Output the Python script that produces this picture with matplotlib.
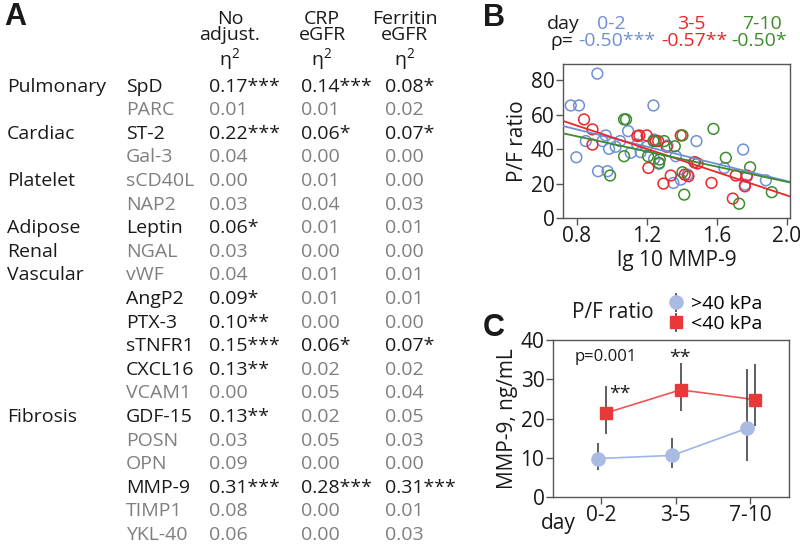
import numpy as np
import matplotlib.pyplot as plt

FONT = ['Open Sans', 'DejaVu Sans']
plt.rcParams['font.family'] = FONT
plt.rcParams['mathtext.fontset'] = 'custom'
plt.rcParams['mathtext.rm'] = 'Open Sans'
BLACK = '#1a1a1a'
GRAY = '#7f7f7f'

# ---- panel A table ----
groups = ['Pulmonary', '', 'Cardiac', '', 'Platelet', '', 'Adipose', 'Renal', 'Vascular', '',
          '', '', '', '', 'Fibrosis', '', '', '', '', '']
markers = ['SpD', 'PARC', 'ST-2', 'Gal-3', 'sCD40L', 'NAP2', 'Leptin', 'NGAL', 'vWF', 'AngP2',
           'PTX-3', 'sTNFR1', 'CXCL16', 'VCAM1', 'GDF-15', 'POSN', 'OPN', 'MMP-9', 'TIMP1', 'YKL-40']
no_adj = ['0.17***', '0.01', '0.22***', '0.04', '0.00', '0.03', '0.06*', '0.03', '0.04', '0.09*',
          '0.10**', '0.15***', '0.13**', '0.00', '0.13**', '0.03', '0.09', '0.31***', '0.08', '0.06']
crp_egfr = ['0.14***', '0.01', '0.06*', '0.00', '0.01', '0.04', '0.01', '0.00', '0.01', '0.01',
            '0.00', '0.06*', '0.02', '0.05', '0.02', '0.05', '0.00', '0.28***', '0.00', '0.00']
ferr_egfr = ['0.08*', '0.02', '0.07*', '0.00', '0.00', '0.03', '0.01', '0.00', '0.01', '0.01',
             '0.00', '0.07*', '0.02', '0.04', '0.05', '0.03', '0.00', '0.31***', '0.01', '0.03']
col_headers = ['No\nadjust.', 'CRP\neGFR', 'Ferritin\neGFR']

# ---- panel B scatter (lg10 MMP-9 vs P/F ratio) ----
b_x_02 = [0.766, 0.813, 0.918, 0.798, 0.852, 0.922, 0.966, 0.947, 0.976, 0.985, 1.048, 1.023,
          1.094, 1.109, 1.166, 1.239, 1.200, 1.243, 1.271, 1.319, 1.353, 1.395, 1.367, 1.434,
          1.485, 1.472, 1.644, 1.752, 1.762, 1.773, 1.882, 1.147, 1.243]
b_y_02 = [65.4, 65.4, 83.9, 35.3, 44.7, 27.2, 48.0, 44.7, 27.2, 40.2, 44.7, 41.4,
          50.5, 37.9, 38.3, 65.4, 41.4, 45.6, 31.5, 42.1, 20.4, 22.3, 35.9, 25.2,
          44.7, 32.4, 29.1, 39.8, 19.4, 23.9, 21.9, 42.7, 34.4]
b_x_35 = [0.842, 0.890, 0.890, 1.147, 1.158, 1.200, 1.210, 1.266, 1.296, 1.338, 1.395, 1.418,
          1.439, 1.476, 1.491, 1.571, 1.693, 1.710, 1.762, 1.773, 1.315, 1.252]
b_y_35 = [57.3, 51.5, 42.7, 47.6, 48.0, 48.0, 29.1, 44.7, 20.0, 24.7, 48.0, 25.2,
          24.3, 32.4, 31.7, 20.4, 11.3, 24.7, 18.4, 24.7, 41.4, 44.7]
b_x_710 = [0.991, 1.071, 1.082, 1.071, 1.208, 1.239, 1.271, 1.300, 1.361, 1.405, 1.405, 1.415,
           1.582, 1.653, 1.729, 1.792, 1.916, 1.275]
b_y_710 = [24.7, 57.3, 57.3, 35.9, 35.9, 44.7, 32.0, 44.7, 41.7, 48.0, 26.6, 13.6,
           51.8, 35.0, 8.3, 29.5, 15.0, 34.0]
days = ['0-2', '3-5', '7-10']
rho = ['-0.50***', '-0.57**', '-0.50*']
fit_slope = [-25.0, -33.8, -22.0]
fit_intercept = [71.5, 80.8, 65.1]
day_colors = ['#6f8fd6', '#e8282a', '#3c8c2c']

# ---- panel C MMP-9 by day ----
hi_mean = [9.8, 10.6, 17.5]
hi_low = [6.9, 7.4, 9.3]
hi_high = [13.7, 15.0, 32.5]
lo_mean = [21.4, 27.3, 24.8]
lo_low = [16.1, 21.8, 18.2]
lo_high = [28.3, 34.2, 33.9]

fig = plt.figure(figsize=(8, 5.46), dpi=100)

# text layer in pixel coordinates
ax_t = fig.add_axes([0, 0, 1, 1])
ax_t.set_xlim(0, 800)
ax_t.set_ylim(546, 0)
ax_t.axis('off')

fs = 14
afs = 15
for lab, lx, ly in [('A', 4, 17), ('B', 483, 18), ('C', 483, 328)]:
    ax_t.text(lx, ly, lab, fontsize=22, fontweight='bold', family='Liberation Sans',
              va='center', color=BLACK)

hdr_x = [230, 322, 405]
val_x = [209, 301, 385]
for hx, h in zip(hdr_x, col_headers):
    ax_t.text(hx, 27, h, ha='center', va='center', fontsize=fs, color=BLACK, linespacing=0.9)
    ax_t.text(hx, 60, 'η$^2$', ha='center', va='center', fontsize=fs, color=BLACK)

row_y = 86.5 + 23.6 * np.arange(len(markers))
for i, y in enumerate(row_y):
    if groups[i]:
        ax_t.text(7, y, groups[i], va='center', fontsize=fs, color=BLACK)
    ax_t.text(126, y, markers[i], va='center', fontsize=fs,
              color=BLACK if '*' in no_adj[i] else GRAY)
    for vx, col in zip(val_x, [no_adj, crp_egfr, ferr_egfr]):
        ax_t.text(vx, y, col[i], va='center', fontsize=fs,
                  color=BLACK if '*' in col[i] else GRAY)

# panel B header
ax_t.text(547, 24, 'day', va='center', fontsize=fs, color=BLACK)
ax_t.text(551, 41, 'ρ=', va='center', fontsize=fs, color=BLACK)
for d, r, c, dx, rx in zip(days, rho, day_colors, [611, 691, 762], [578, 661, 731]):
    ax_t.text(dx, 24, d, ha='center', va='center', fontsize=fs, color=c)
    ax_t.text(rx, 41, r, va='center', fontsize=fs, color=c)

# ---- panel B ----
axB = fig.add_axes([0.7034, 0.6007, 0.2841, 0.2821])
for xs, ys, c in zip([b_x_02, b_x_35, b_x_710], [b_y_02, b_y_35, b_y_710], day_colors):
    axB.scatter(xs, ys, s=60, facecolors='none', edgecolors=c, linewidths=1.1, zorder=2)
xl = np.array([0.72, 2.02])
for m, b, c in zip(fit_slope, fit_intercept, day_colors):
    axB.plot(xl, m * xl + b, color=c, lw=1.3, zorder=3)
axB.set_xlim(0.72, 2.02)
axB.set_ylim(0, 89.5)
axB.set_xticks([0.8, 1.2, 1.6, 2.0])
axB.set_xticklabels(['0.8', '1.2', '1.6', '2.0'])
axB.set_yticks([0, 20, 40, 60, 80])
axB.set_xlabel('lg 10 MMP-9', fontsize=afs, color=BLACK, labelpad=2)
axB.set_ylabel('P/F ratio', fontsize=afs, color=BLACK, labelpad=2)

# ---- panel C ----
axC = fig.add_axes([0.6909, 0.0897, 0.2954, 0.2876])
xc = np.arange(3)
axC.errorbar(xc - 0.045, hi_mean,
             yerr=[np.array(hi_mean) - np.array(hi_low), np.array(hi_high) - np.array(hi_mean)],
             fmt='o', color='#a9bbe2', ms=9.5, ecolor='#444444', elinewidth=1.2, capsize=0, zorder=3,
             label='>40 kPa')
axC.plot(xc - 0.045, hi_mean, color='#9fb3e8', lw=1.2, zorder=2)
axC.errorbar(xc + 0.065, lo_mean,
             yerr=[np.array(lo_mean) - np.array(lo_low), np.array(lo_high) - np.array(lo_mean)],
             fmt='s', color='#e8383a', ms=9, ecolor='#444444', elinewidth=1.2, capsize=0, zorder=3,
             label='<40 kPa')
axC.plot(xc + 0.065, lo_mean, color='#f05454', lw=1.2, zorder=2)
axC.set_xlim(-0.646, 2.517)
axC.set_ylim(0, 40)
axC.set_xticks(xc)
axC.set_xticklabels(days)
axC.set_yticks([0, 10, 20, 30, 40])
axC.set_ylabel('MMP-9, ng/mL', fontsize=afs, color=BLACK, labelpad=2)
axC.text(-0.35, 35.7, 'p=0.001', va='center', fontsize=12, color=BLACK)
axC.text(0.25, 26.3, '**', ha='center', va='center', fontsize=14, color=BLACK)
axC.text(1.05, 35.4, '**', ha='center', va='center', fontsize=14, color=BLACK)
ax_t.text(541, 523, 'day', va='center', fontsize=afs, color=BLACK)
ax_t.text(613, 312, 'P/F ratio', ha='center', va='center', fontsize=afs, color=BLACK)
axC.legend(loc='center left', bbox_to_anchor=(0.44, 1.165), frameon=False, fontsize=fs,
           handletextpad=0.25, borderpad=0, labelspacing=0.1, handlelength=1.0)

for ax in (axB, axC):
    for sp in ax.spines.values():
        sp.set_color('#555555')
        sp.set_linewidth(1.0)
    ax.tick_params(labelsize=afs, colors=BLACK, length=5, width=1.0, pad=1)
    ax.tick_params(axis='both', color='#555555')

fig.savefig('out.png', dpi=100)
